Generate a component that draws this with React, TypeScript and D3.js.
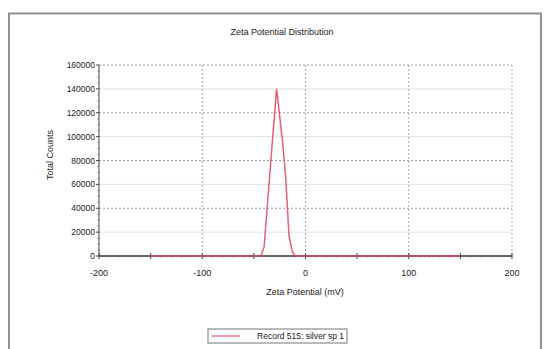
import React from "react";
import * as d3 from "d3";

const zeta: number[] = [-150, -43, -40, -39, -36, -33, -30, -28, -25, -22, -19, -17, -16, -13, -10, 150];
const counts: number[] = [0, 0, 8000, 20000, 53000, 86000, 118000, 140000, 117000, 94000, 64000, 32000, 17000, 4000, 0, 0];
const xTickLabels: number[] = [-200, -100, 0, 100, 200];
const xMajorTicks: number[] = [-200, -150, -100, -50, 0, 50, 100, 150, 200];
const yTickLabels: number[] = [0, 20000, 40000, 60000, 80000, 100000, 120000, 140000, 160000];
const seriesName = "Record 515: silver sp 1";
const title = "Zeta Potential Distribution";
const xTitle = "Zeta Potential (mV)";
const yTitle = "Total Counts";

export default function App() {
  const W = 549, H = 349;
  const x = d3.scaleLinear().domain([-200, 200]).range([99, 512]);
  const y = d3.scaleLinear().domain([0, 160000]).range([256, 65]);
  const line = d3.line<number>().x((_, i) => x(zeta[i])).y((d) => y(d));
  const font = "'Liberation Sans', Arial, sans-serif";
  const yMinor = d3.range(0, 160001, 5000).filter((v) => v % 20000 !== 0);
  const xMinor = d3.range(-200, 201, 10).filter((v) => v % 50 !== 0);
  return (
    <svg width={W} height={H} style={{ position: "absolute", left: 0, top: 0, background: "#fff" }} fontFamily={font}>
      <rect x={0} y={0} width={W} height={H} fill="#fff" />
      <rect x={9} y={13.5} width={532} height={345} fill="#fff" stroke="#8f8f8f" strokeWidth={2} />
      <text x={282} y={35} textAnchor="middle" fontSize={9} fill="#1a1a1a">{title}</text>
      {/* horizontal grid */}
      {yTickLabels.filter((v) => v > 0).map((v) => (
        <line key={"hg" + v} x1={x(-200)} x2={x(200)} y1={y(v)} y2={y(v)}
          stroke={v % 40000 === 0 ? "#9a9a9a" : "#d8d8d8"} strokeWidth={1}
          strokeDasharray={v % 40000 === 0 ? "2,2" : "3,1"} />
      ))}
      {/* vertical grid */}
      {[-100, 0, 100, 200].map((v) => (
        <line key={"vg" + v} x1={x(v)} x2={x(v)} y1={y(160000)} y2={y(0)}
          stroke="#a8a8a8" strokeWidth={1} strokeDasharray="2,2" />
      ))}
      {/* y axis */}
      <line x1={x(-200)} x2={x(-200)} y1={y(0)} y2={y(160000)} stroke="#444" strokeWidth={1} />
      {yTickLabels.map((v) => (
        <g key={"yt" + v}>
          <line x1={x(-200) - 3} x2={x(-200)} y1={y(v)} y2={y(v)} stroke="#444" />
          <text x={x(-200) - 4} y={y(v) + 3} textAnchor="end" fontSize={8.5} fill="#1a1a1a">{v}</text>
        </g>
      ))}
      {yMinor.map((v) => (
        <line key={"ym" + v} x1={x(-200) - 1.5} x2={x(-200)} y1={y(v)} y2={y(v)} stroke="#666" />
      ))}
      {/* x axis */}
      <line x1={x(-200)} x2={x(200)} y1={y(0)} y2={y(0)} stroke="#333" strokeWidth={1.5} />
      {xMajorTicks.map((v) => (
        <line key={"xt" + v} x1={x(v)} x2={x(v)} y1={y(0) - 3} y2={y(0) + 3} stroke="#444" />
      ))}
      {xMinor.map((v) => (
        <line key={"xm" + v} x1={x(v)} x2={x(v)} y1={y(0)} y2={y(0) + 1.5} stroke="#777" />
      ))}
      {xTickLabels.map((v) => (
        <text key={"xl" + v} x={x(v)} y={276} textAnchor="middle" fontSize={9} fill="#1a1a1a">{v}</text>
      ))}
      <text x={305} y={295} textAnchor="middle" fontSize={9} fill="#1a1a1a">{xTitle}</text>
      <text transform={`translate(53,155) rotate(-90)`} textAnchor="middle" fontSize={9} fill="#1a1a1a">{yTitle}</text>
      {/* series */}
      <path d={line(counts) || ""} fill="none" stroke="#e2455a" strokeWidth={1.5} strokeOpacity={0.85} />
      {/* legend */}
      <rect x={208} y={329} width={139} height={14} fill="#fff" stroke="#777" strokeWidth={1} />
      <line x1={212} x2={240} y1={336} y2={336} stroke="#e8788a" strokeWidth={1.5} />
      <text x={344} y={339} textAnchor="end" fontSize={8.5} fill="#1a1a1a">{seriesName}</text>
    </svg>
  );
}
